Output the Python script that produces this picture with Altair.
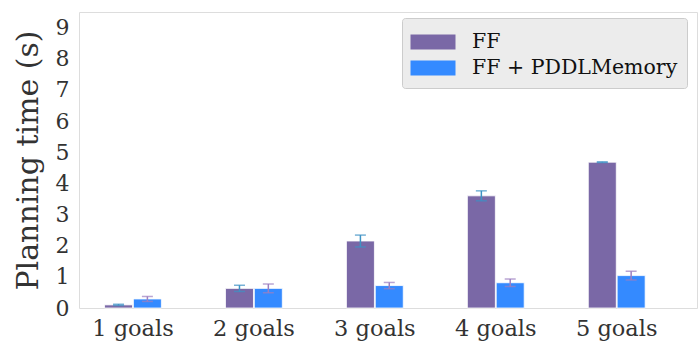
import altair as alt
import pandas as pd

goals = ["1 goals", "2 goals", "3 goals", "4 goals", "5 goals"]
series = ["FF", "FF + PDDLMemory"]
ff_mean = [0.10, 0.63, 2.15, 3.60, 4.68]
ff_err = [0.02, 0.10, 0.19, 0.16, 0.01]
mem_mean = [0.29, 0.63, 0.72, 0.81, 1.04]
mem_err = [0.08, 0.14, 0.10, 0.12, 0.14]
y_ticks = [0, 1, 2, 3, 4, 5, 6, 7, 8, 9]

rows = []
for i, g in enumerate(goals):
    rows.append({"goal": g, "series": series[0], "mean": ff_mean[i],
                 "lo": ff_mean[i] - ff_err[i], "hi": ff_mean[i] + ff_err[i]})
    rows.append({"goal": g, "series": series[1], "mean": mem_mean[i],
                 "lo": mem_mean[i] - mem_err[i], "hi": mem_mean[i] + mem_err[i]})
df = pd.DataFrame(rows)

FONT = "DejaVu Serif"
bar_colors = ["#7a68a6", "#348aff"]
err_colors = ["#3d92c4", "#9d7fc0"]

yaxis = alt.Axis(values=y_ticks, ticks=False, domain=False, grid=False,
                 labelOverlap=False, labelPadding=10, labelFont=FONT, labelFontSize=22,
                 labelColor="#333333", titleFont=FONT, titleFontSize=30,
                 titleFontWeight="normal", titleColor="#333333", titlePadding=12)
yscale = alt.Scale(domain=[0, 9.5], nice=False)


def Y(field):
    return alt.Y(field, title="Planning time (s)", scale=yscale, axis=yaxis)


xenc = alt.X("goal:N", sort=goals, title=None,
             scale=alt.Scale(paddingInner=0.53, paddingOuter=0.32, align=0.33),
             axis=alt.Axis(labelAngle=0, ticks=False, domain=False, labelPadding=9,
                           labelFont=FONT, labelFontSize=22.5, labelColor="#333333"))
xoff = alt.XOffset("series:N", sort=series, scale=alt.Scale(paddingInner=0.03))

bars = alt.Chart(df).mark_bar(stroke="white", strokeWidth=0.8).encode(
    x=xenc,
    xOffset=xoff,
    y=Y("mean:Q"),
    color=alt.Color("series:N", sort=series,
                    scale=alt.Scale(domain=series, range=bar_colors),
                    legend=alt.Legend(title=None, orient="none", legendX=323, legendY=6,
                                      symbolType="M-1.5,-0.5L1.5,-0.5L1.5,0.5L-1.5,0.5Z",
                                      symbolSize=900, symbolStrokeWidth=0, symbolOffset=7,
                                      labelFont=FONT, labelFontSize=20.5, labelColor="#111111",
                                      labelLimit=0, labelOffset=24, rowPadding=0,
                                      fillColor="#ececec", strokeColor="#cccccc",
                                      cornerRadius=3, padding=9)),
)

errcolor = alt.Color("series:N", scale=alt.Scale(domain=series, range=err_colors), legend=None)

rules = alt.Chart(df).mark_rule(strokeWidth=1.5).encode(
    x=xenc, xOffset=xoff, y=Y("lo:Q"), y2="hi:Q", color=errcolor,
)
cap_lo = alt.Chart(df).mark_tick(size=11, thickness=1.5, orient="horizontal").encode(
    x=xenc, xOffset=xoff, y=Y("lo:Q"), color=errcolor,
)
cap_hi = cap_lo.encode(y=Y("hi:Q"))

errs = alt.layer(rules, cap_lo, cap_hi)

chart = alt.layer(bars, errs).resolve_scale(color="independent").properties(
    width=618, height=296,
    autosize=alt.AutoSizeParams(type="none"),
    padding={"left": 79, "top": 12, "right": 1, "bottom": 39},
).configure_view(fill="#ebebeb", stroke="#c8c8c8", strokeWidth=1.2).configure(background="white")

chart.save("out.html", embed_options={"renderer": "svg", "actions": False})
